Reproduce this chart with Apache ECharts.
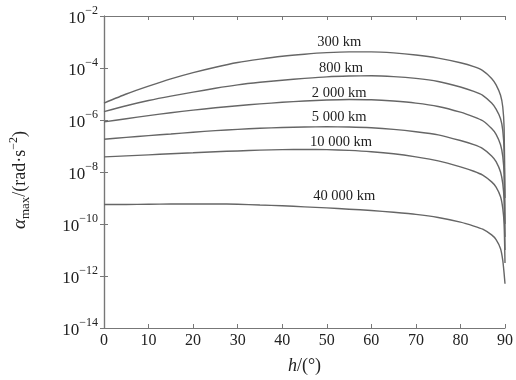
<!DOCTYPE html>
<html><head><meta charset="utf-8">
<script src="https://cdn.jsdelivr.net/npm/echarts@6/dist/echarts.min.js"></script>
<style>html,body{margin:0;padding:0;background:#fff}#c{width:516px;height:380px}</style>
</head><body><div id="c"></div>
<script>
// elevation angle h (deg)
var hVals = [0,5,10,15,20,25,30,35,40,45,50,55,60,65,70,75,80,83,85,87,88,89,89.5,89.8,90];
// log10 of alpha_max (rad/s^2)
var s300   = [-5.35,-5.00,-4.70,-4.42,-4.18,-3.97,-3.79,-3.66,-3.55,-3.47,-3.41,-3.38,-3.38,-3.42,-3.50,-3.62,-3.80,-3.95,-4.10,-4.40,-4.65,-5.05,-5.50,-6.30,-9.0];
var s800   = [-5.68,-5.45,-5.25,-5.08,-4.93,-4.78,-4.65,-4.55,-4.47,-4.40,-4.34,-4.31,-4.30,-4.33,-4.40,-4.52,-4.73,-4.90,-5.05,-5.35,-5.58,-5.95,-6.40,-7.20,-10.0];
var s2000  = [-6.07,-5.95,-5.83,-5.72,-5.62,-5.53,-5.45,-5.38,-5.32,-5.27,-5.23,-5.21,-5.22,-5.27,-5.35,-5.48,-5.70,-5.88,-6.03,-6.33,-6.55,-6.95,-7.40,-8.10,-10.5];
var s5000  = [-6.74,-6.67,-6.60,-6.54,-6.47,-6.41,-6.36,-6.32,-6.29,-6.27,-6.26,-6.27,-6.30,-6.36,-6.45,-6.57,-6.79,-6.95,-7.10,-7.38,-7.60,-8.00,-8.45,-9.10,-11.0];
var s10000 = [-7.42,-7.38,-7.34,-7.30,-7.26,-7.22,-7.19,-7.16,-7.14,-7.13,-7.14,-7.17,-7.22,-7.30,-7.42,-7.57,-7.80,-7.97,-8.12,-8.38,-8.58,-8.95,-9.40,-10.0,-11.5];
var s40000 = [-9.25,-9.25,-9.24,-9.23,-9.23,-9.23,-9.24,-9.27,-9.30,-9.34,-9.38,-9.43,-9.48,-9.55,-9.63,-9.75,-9.93,-10.08,-10.2,-10.42,-10.6,-10.95,-11.4,-11.9,-12.3];
var seriesNames = ['300 km','800 km','2 000 km','5 000 km','10 000 km','40 000 km'];
var seriesData = [s300, s800, s2000, s5000, s10000, s40000];
// curve label anchors (h, log10 value)
var labelH = [52.8, 53.2, 52.8, 52.8, 53.2, 53.9];
var labelY = [-3.01, -4.02, -4.95, -5.91, -6.85, -8.94];
var xTicks = [0,10,20,30,40,50,60,70,80,90];
var yTicks = [-14,-12,-10,-8,-6,-4,-2];

var FONT = 'Liberation Serif';
var axisCol = '#777';
var txt = '#222';

var series = seriesData.map(function(arr, i){
  return {
    type: 'line', name: seriesNames[i], showSymbol: false, symbol: 'none', smooth: 0.2,
    lineStyle: {color: '#666', width: 1.4}, animation: false,
    data: hVals.map(function(h, j){ return [h, arr[j]]; }),
    markPoint: {
      symbol: 'circle', symbolSize: 0, animation: false,
      label: {show: true, position: 'inside', formatter: seriesNames[i], color: txt, fontFamily: FONT, fontSize: 14.5},
      data: [{coord: [labelH[i], labelY[i]]}]
    }
  };
});

var chart = echarts.init(document.getElementById('c'), null, {renderer: 'canvas'});
chart.setOption({
  animation: false,
  backgroundColor: '#fff',
  grid: {left: 102, right: 8, top: 16, bottom: 43},
  xAxis: [{
    type: 'value', min: 0, max: 90, interval: 10,
    axisLine: {show: true, lineStyle: {color: axisCol, width: 1.2}},
    axisTick: {show: true, inside: true, length: 4, lineStyle: {color: axisCol}},
    splitLine: {show: false},
    axisLabel: {color: txt, fontFamily: FONT, fontSize: 16, margin: 5},
    name: '{i|h}{n|/(°)}', nameLocation: 'middle', nameGap: 29,
    nameTextStyle: {rich: {i: {fontFamily: FONT, fontStyle: 'italic', fontSize: 18, color: txt}, n: {fontFamily: FONT, fontSize: 18, color: txt}}}
  }, {
    type: 'value', min: 0, max: 90, interval: 10, position: 'top',
    axisLine: {show: true, lineStyle: {color: axisCol, width: 1.2}},
    axisTick: {show: true, inside: true, length: 4, lineStyle: {color: axisCol}},
    axisLabel: {show: false}, splitLine: {show: false}
  }],
  yAxis: [{
    type: 'value', min: -14, max: -2, interval: 2,
    axisLine: {show: true, lineStyle: {color: axisCol, width: 1.2}},
    axisTick: {show: true, inside: true, length: 4, lineStyle: {color: axisCol}},
    splitLine: {show: false},
    axisLabel: {
      margin: 6,
      formatter: function(v){ return '{b|10}{s|' + String(v).replace('-', '−') + '}'; },
      rich: {
        b: {fontFamily: FONT, fontSize: 17, color: txt, lineHeight: 22, verticalAlign: 'bottom'},
        s: {fontFamily: FONT, fontSize: 12, color: txt, verticalAlign: 'top', lineHeight: 22}
      }
    },
    name: '{i|α}{sub|max}{n|/(rad·s}{sup|−2}{n|)}', nameLocation: 'middle', nameGap: 72, nameRotate: 90,
    nameTextStyle: {padding: [0, 16, 0, 0], rich: {
      i: {fontFamily: FONT, fontStyle: 'italic', fontSize: 19, color: txt, lineHeight: 24, verticalAlign: 'middle'},
      sub: {fontFamily: FONT, fontSize: 13, color: txt, lineHeight: 24, verticalAlign: 'bottom'},
      n: {fontFamily: FONT, fontSize: 18, color: txt, lineHeight: 24, verticalAlign: 'middle'},
      sup: {fontFamily: FONT, fontSize: 12, color: txt, lineHeight: 24, verticalAlign: 'top'}
    }}
  }, {
    type: 'value', min: -14, max: -2, interval: 2, position: 'right',
    axisLine: {show: true, lineStyle: {color: axisCol, width: 1.2}},
    axisTick: {show: true, inside: true, length: 4, lineStyle: {color: axisCol}},
    axisLabel: {show: false}, splitLine: {show: false}
  }],
  series: series
});
</script></body></html>
